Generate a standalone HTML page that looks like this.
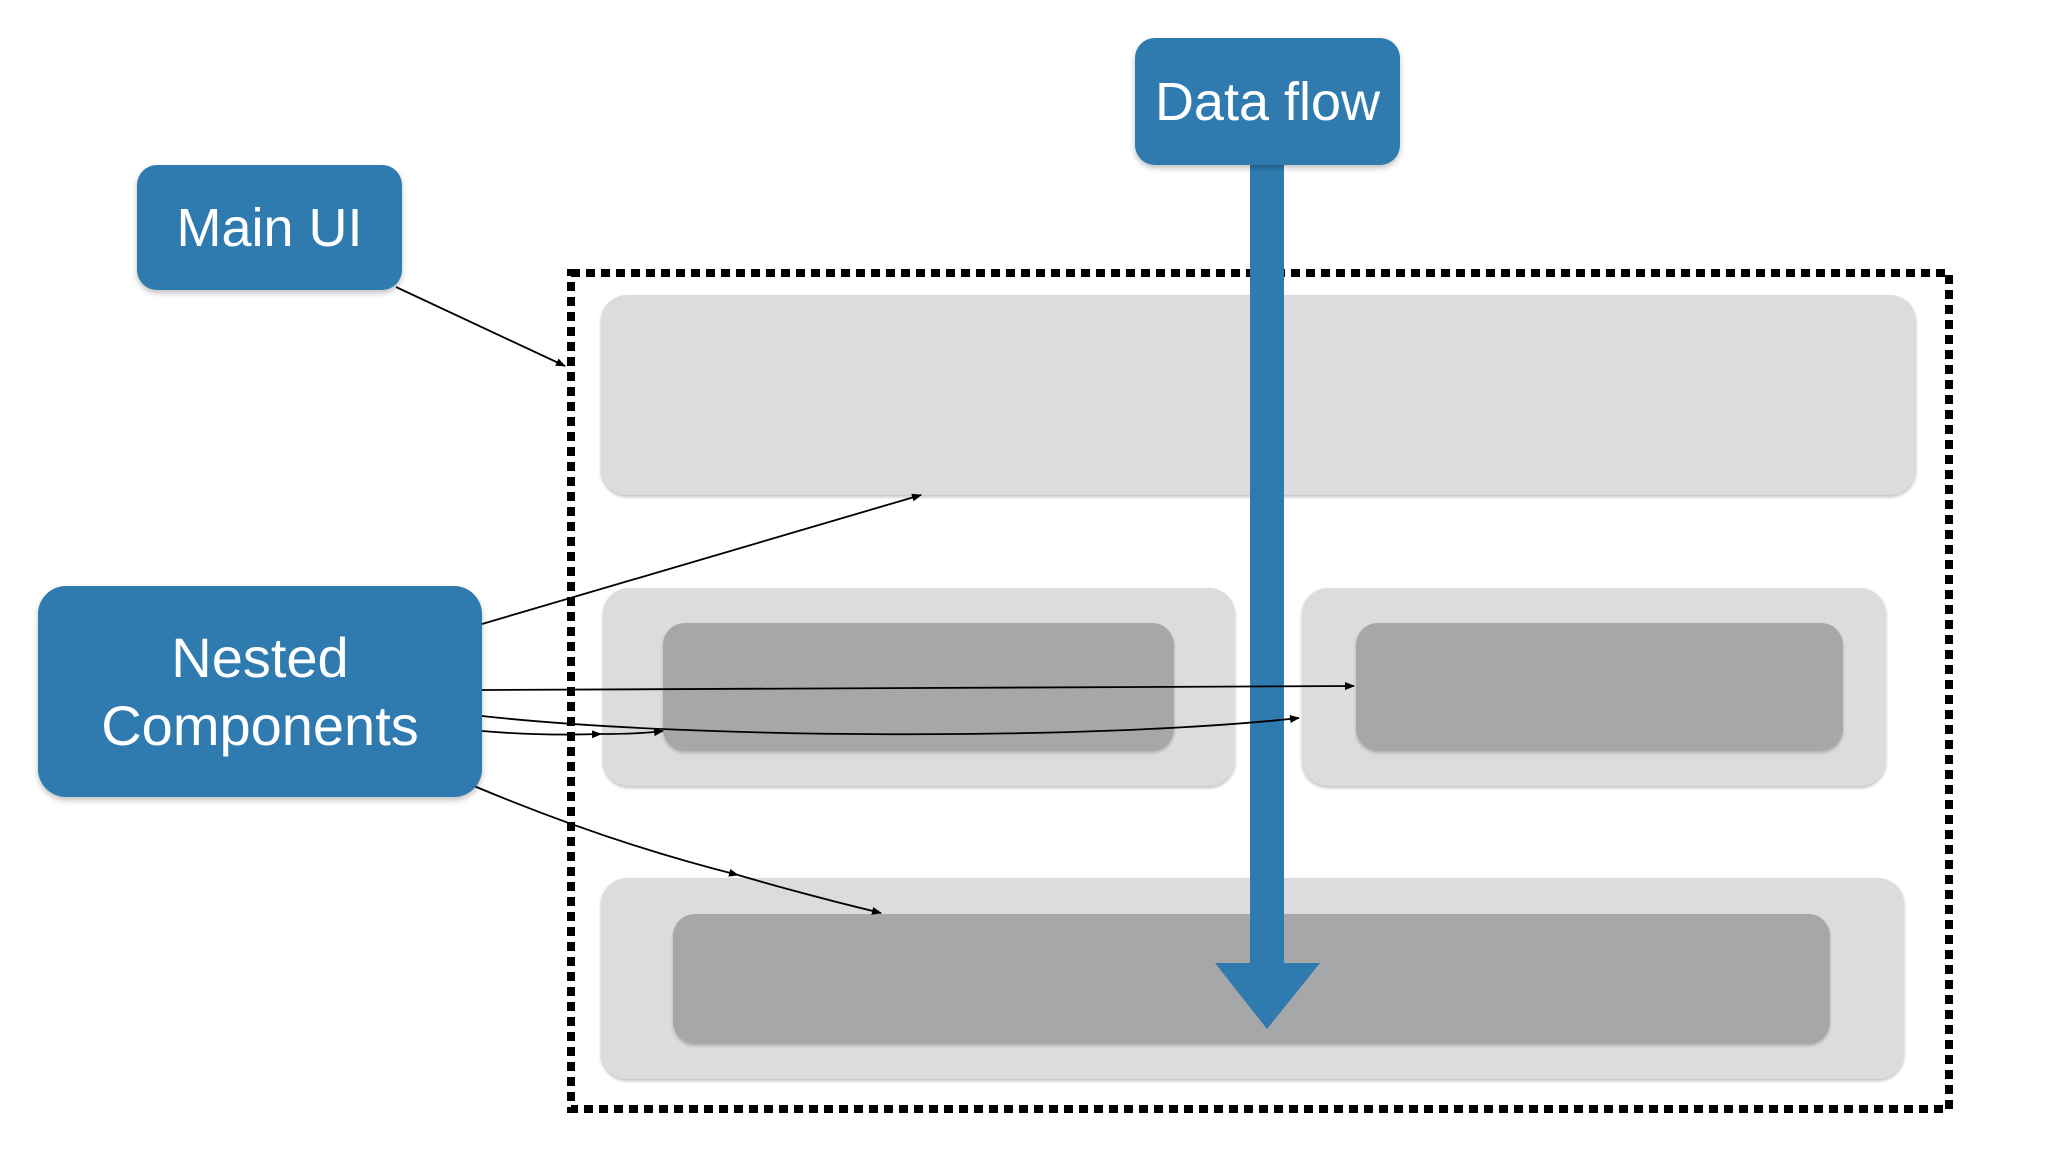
<!DOCTYPE html>
<html><head><meta charset="utf-8"><style>
html,body{margin:0;padding:0;background:#fff;}
body{width:2048px;height:1152px;position:relative;overflow:hidden;font-family:"Liberation Sans",sans-serif;}
.b{position:absolute;background:#2f7bb0;border-radius:20px;color:#fff;display:flex;align-items:center;justify-content:center;text-align:center;box-shadow:0 3px 6px rgba(0,0,0,0.25);}
.p{position:absolute;background:#dcdcdf;border-radius:26px;box-shadow:0 2px 3px rgba(0,0,0,0.25);}
.q{position:absolute;background:#a6a7a9;border-radius:22px;box-shadow:0 2px 3px rgba(0,0,0,0.2);}
</style></head><body>
<div class="p" style="left:601px;top:295px;width:1315px;height:200px"></div>
<div class="p" style="left:603px;top:588px;width:632px;height:198px"></div>
<div class="q" style="left:663px;top:623px;width:511px;height:128px"></div>
<div class="p" style="left:1302px;top:588px;width:584px;height:198px"></div>
<div class="q" style="left:1356px;top:623px;width:487px;height:128px"></div>
<div class="p" style="left:601px;top:878px;width:1303px;height:201px"></div>
<div class="q" style="left:673px;top:914px;width:1157px;height:130px"></div>
<svg width="2048" height="1152" style="position:absolute;left:0;top:0">
<defs><marker id="a" markerWidth="10" markerHeight="8" refX="9" refY="4" orient="auto" markerUnits="userSpaceOnUse"><path d="M0,0 L10,4 L0,8 z" fill="#000"/></marker></defs>
<rect x="571" y="273" width="1378" height="836" fill="none" stroke="#000" stroke-width="8" stroke-dasharray="9 6"/>
<rect x="1250" y="160" width="34" height="806" fill="#2f7bb0"/>
<polygon points="1215,963 1320,963 1267,1029" fill="#2f7bb0"/>
<g fill="none" stroke="#000" stroke-width="1.8">
<line x1="396" y1="287" x2="565" y2="366" marker-end="url(#a)"/>
<line x1="482" y1="624" x2="921" y2="495" marker-end="url(#a)"/>
<line x1="482" y1="690" x2="1354" y2="686" marker-end="url(#a)"/>
<path d="M482,716 C700,740 1100,740 1299,718" marker-end="url(#a)"/>
<path d="M482,731 Q540,736 601,734" marker-end="url(#a)"/>
<path d="M601,734 Q640,734 663,731" marker-end="url(#a)"/>
<path d="M474,786 Q610,843 738,875" marker-end="url(#a)"/>
<path d="M738,875 Q810,896 881,913" marker-end="url(#a)"/>
</g>
</svg>
<div class="b" style="left:1135px;top:38px;width:265px;height:127px;font-size:54px">Data flow</div>
<div class="b" style="left:137px;top:165px;width:265px;height:125px;font-size:54px">Main UI</div>
<div class="b" style="left:38px;top:586px;width:444px;height:211px;font-size:56px;line-height:68px;border-radius:28px">Nested<br>Components</div>
</body></html>
